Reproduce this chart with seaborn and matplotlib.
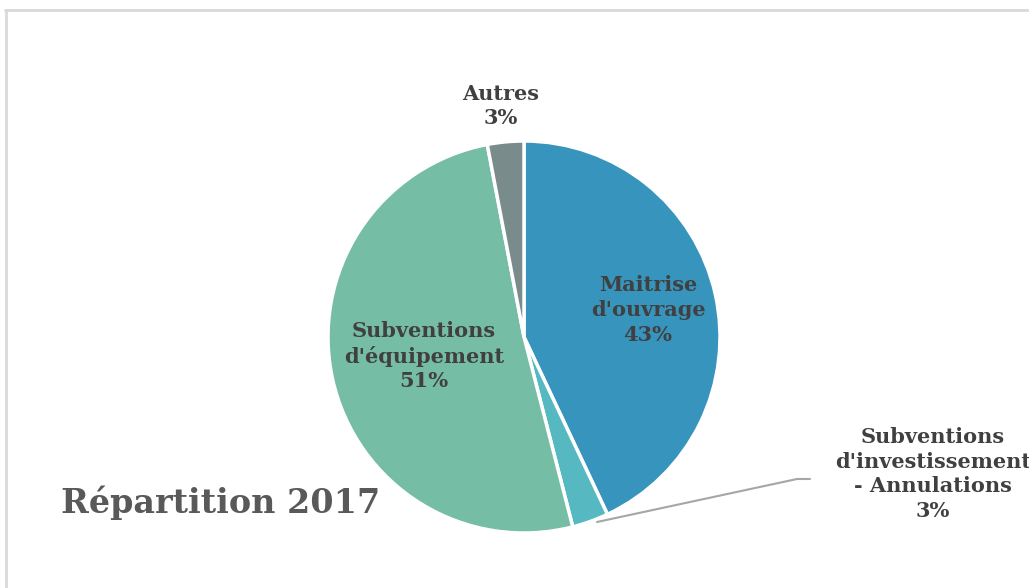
import matplotlib
matplotlib.use("Agg")
import matplotlib.pyplot as plt
import seaborn as sns
from matplotlib.lines import Line2D

# data
categories = ["Maitrise\nd'ouvrage", "Subventions\nd'investissement\n- Annulations",
              "Subventions\nd'équipement", "Autres"]
shares = [43, 3, 51, 3]
slice_colors = ["#3794BC", "#56B8C0", "#76BDA6", "#7A8B8C"]

sns.set_theme(style="white")
plt.rcParams['font.family'] = ['DejaVu Serif']

W, H = 1029, 588
fig = plt.figure(figsize=(W / 100, H / 100), dpi=100)

# pie centred at (524, 337) px, radius 196 px
cx, cy, R = 524, 337, 196
ax = fig.add_axes([(cx - R) / W, (H - cy - R) / H, 2 * R / W, 2 * R / H])
wedges, _ = ax.pie(shares, colors=slice_colors, startangle=90, counterclock=False,
                   radius=1, wedgeprops=dict(edgecolor="white", linewidth=2.5))
ax.set_xlim(-1, 1)
ax.set_ylim(-1, 1)
ax.set_aspect("equal")
ax.axis("off")

def px(x, y):
    return x / W, 1 - y / H

label_pos = [(648, 310), (933, 474), (424, 356), (501, 106)]
for name, val, (x, y) in zip(categories, shares, label_pos):
    fig.text(*px(x, y), f"{name}\n{val}%", ha="center", va="center",
             fontsize=15, fontweight="bold", color="#404040", linespacing=1.3)

# leader line for the small slice
lx = [597 / W, 797 / W, 810 / W]
ly = [1 - 522 / H, 1 - 479 / H, 1 - 479 / H]
fig.add_artist(Line2D(lx, ly, color="#A6A6A6", linewidth=1.5))

fig.text(*px(61, 503), "Répartition 2017", ha="left", va="center",
         fontsize=24, fontweight="bold", color="#595959")

# chart frame (left and top edges visible)
fig.add_artist(Line2D([5.5 / W, 5.5 / W], [0, 1 - 10 / H], color="#D9D9D9", linewidth=2))
fig.add_artist(Line2D([5 / W, 1], [1 - 10 / H, 1 - 10 / H], color="#D9D9D9", linewidth=2))

fig.savefig("out.png", dpi=100, facecolor="white")
